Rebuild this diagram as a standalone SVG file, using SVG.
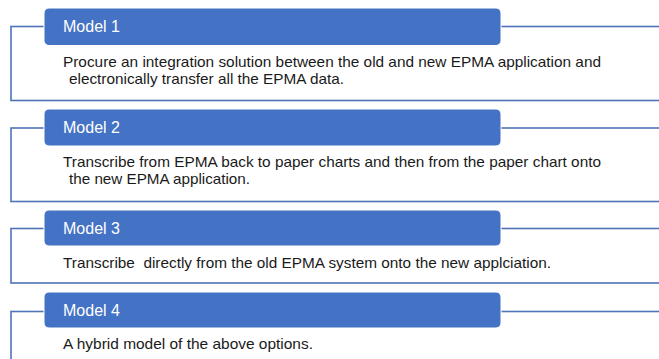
<svg xmlns="http://www.w3.org/2000/svg" width="659" height="359" viewBox="0 0 659 359">
<style>
.frame{fill:#ffffff;stroke:#4e74b6;stroke-width:1.6}
.head{fill:#4472c4;stroke:#ffffff;stroke-width:1}
.ht{font-family:"Liberation Sans",Arial,sans-serif;font-size:16px;fill:#ffffff}
.bt{font-family:"Liberation Sans",Arial,sans-serif;font-size:15px;fill:#1a1a1a}
</style>
<rect x="0" y="0" width="659" height="359" fill="#ffffff"/>
<g id="model1">
<rect class="frame" x="11" y="26.5" width="660" height="74"/>
<rect class="head" x="44" y="8" width="457" height="37.5" rx="5"/>
<text class="ht" x="63" y="31.5">Model 1</text>
<text class="bt" x="63" y="67" textLength="538" lengthAdjust="spacingAndGlyphs">Procure an integration solution between the old and new EPMA application and</text>
<text class="bt" x="69" y="84" textLength="275" lengthAdjust="spacingAndGlyphs">electronically transfer all the EPMA data.</text>
</g>
<g id="model2">
<rect class="frame" x="11" y="128" width="660" height="73.5"/>
<rect class="head" x="44" y="109" width="457" height="37" rx="5"/>
<text class="ht" x="63" y="132.5">Model 2</text>
<text class="bt" x="63" y="167" textLength="538" lengthAdjust="spacingAndGlyphs">Transcribe from EPMA back to paper charts and then from the paper chart onto</text>
<text class="bt" x="69" y="184" textLength="181" lengthAdjust="spacingAndGlyphs">the new EPMA application.</text>
</g>
<g id="model3">
<rect class="frame" x="11" y="228.5" width="660" height="54.5"/>
<rect class="head" x="44" y="210" width="457" height="36" rx="5"/>
<text class="ht" x="63" y="233.5">Model 3</text>
<text class="bt" x="63" y="268" textLength="488" lengthAdjust="spacingAndGlyphs" xml:space="preserve">Transcribe  directly from the old EPMA system onto the new applciation.</text>
</g>
<g id="model4">
<rect class="frame" x="11" y="311.5" width="660" height="80"/>
<rect class="head" x="44" y="292" width="457" height="36" rx="5"/>
<text class="ht" x="63" y="316">Model 4</text>
<text class="bt" x="63" y="349" textLength="250" lengthAdjust="spacingAndGlyphs">A hybrid model of the above options.</text>
</g>
</svg>
